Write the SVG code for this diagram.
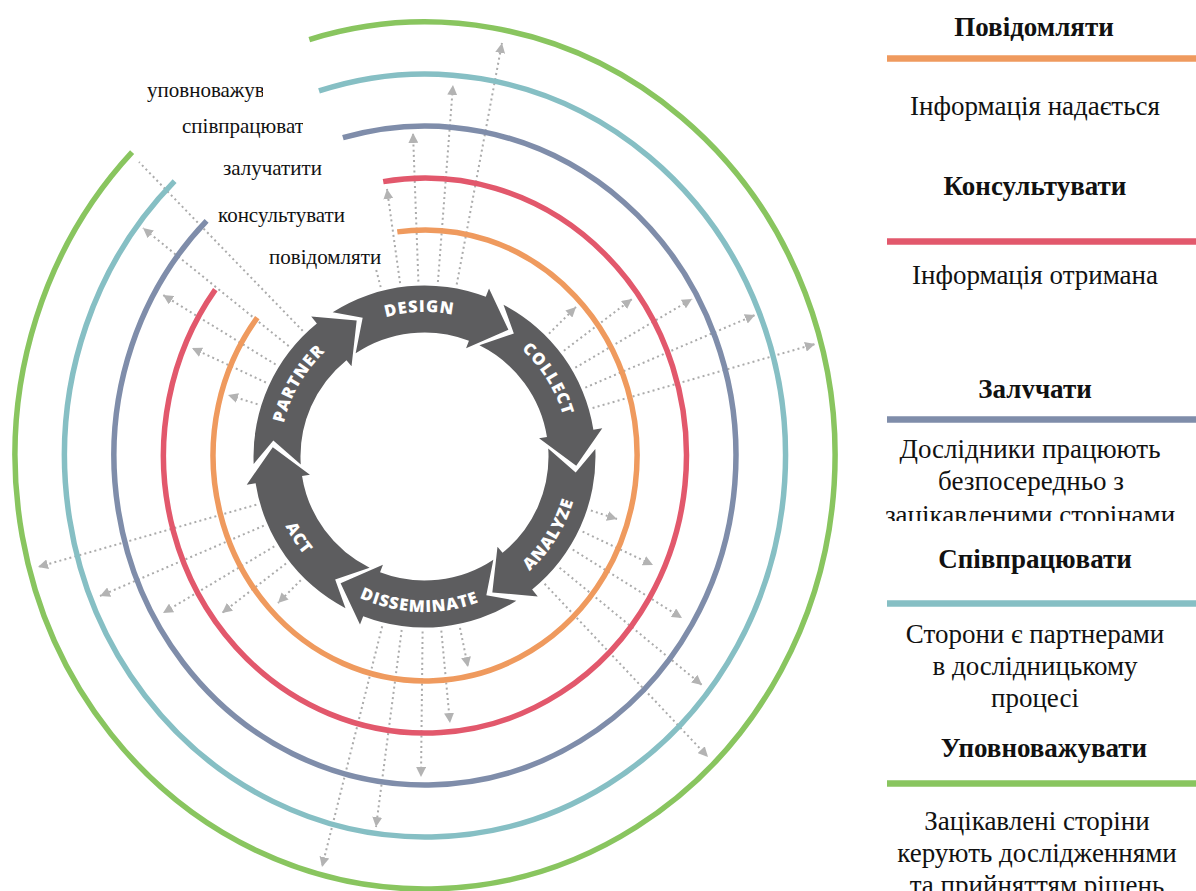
<svg xmlns="http://www.w3.org/2000/svg" xmlns:xlink="http://www.w3.org/1999/xlink" width="1196" height="891" viewBox="0 0 1196 891">
<style>
.d{stroke:#ABABAB;stroke-width:2;stroke-dasharray:2 3.2;fill:none}
.ring{fill:none;stroke-width:5.5}
.seg{fill:#5D5D5F}
.ct{font-family:"Open Sans","DejaVu Sans",sans-serif;font-weight:800;font-size:16.5px;fill:#fff;letter-spacing:1px}
.lab{font-family:"Liberation Serif","DejaVu Serif",serif;font-size:21px;fill:#111}
.lg{font-family:"Liberation Serif","DejaVu Serif",serif;font-size:27px;fill:#111;text-anchor:middle}
.lgb{font-family:"Liberation Serif","DejaVu Serif",serif;font-size:27px;font-weight:700;fill:#111;text-anchor:middle}
.ll{stroke-width:6.5}
</style>
<defs>
<marker id="ah" viewBox="0 0 10 10" refX="10" refY="5" markerWidth="10" markerHeight="10" markerUnits="userSpaceOnUse" orient="auto">
<path d="M0,0 L10,5 L0,10 z" fill="#B3B3B3"/>
</marker>
<path id="seg" d="M69.6,-156.19 A171,171 0 0 1 166.95,-37.01 L175.73,-38.95 L152,0 L113.25,-25.1 L121.06,-26.83 A124,124 0 0 0 48.01,-114.33 L81.67,-128.2 Z"/>
<path id="tp-design" d="M296.92,388.66 A144.5,144.5 0 0 1 547.04,379.93"/>
<path id="tp-collect" d="M419.46,312.09 A144.5,144.5 0 0 1 552.08,524.34"/>
<path id="tp-partner" d="M299.36,528.75 A144.5,144.5 0 0 1 424.5,312"/>
<path id="tp-analyze" d="M419.07,611.91 A155.5,155.5 0 0 0 561.79,383.49"/>
<path id="tp-diss" d="M287.21,529.51 A155.5,155.5 0 0 0 556.36,538.9"/>
<path id="tp-act" d="M285.95,385.9 A155.5,155.5 0 0 0 432.64,611.79"/>
<clipPath id="c1"><rect x="140" y="70" width="123" height="40"/></clipPath>
<clipPath id="c2"><rect x="175" y="108" width="128" height="35"/></clipPath>
<clipPath id="c3"><rect x="215" y="150" width="107" height="35"/></clipPath>
<clipPath id="c4"><rect x="210" y="197" width="147" height="35"/></clipPath>
<clipPath id="c5"><rect x="860" y="370" width="336" height="28.5"/></clipPath>
<clipPath id="c6"><rect x="860" y="495" width="336" height="26"/></clipPath>
</defs>
<rect width="1196" height="891" fill="#fff"/>

<g id="connectors">
<line class="d" x1="549" y1="333.6" x2="576" y2="307" marker-end="url(#ah)"/>
<line class="d" x1="563.9" y1="350.7" x2="632" y2="299" marker-end="url(#ah)"/>
<line class="d" x1="575.3" y1="367.7" x2="692" y2="299" marker-end="url(#ah)"/>
<line class="d" x1="585.3" y1="387.6" x2="755" y2="315" marker-end="url(#ah)"/>
<line class="d" x1="592.6" y1="408" x2="815" y2="344" marker-end="url(#ah)"/>
<line class="d" x1="590.9" y1="510.5" x2="617" y2="519" marker-end="url(#ah)"/>
<line class="d" x1="582.6" y1="531.6" x2="653" y2="565" marker-end="url(#ah)"/>
<line class="d" x1="572.7" y1="549.5" x2="682" y2="618" marker-end="url(#ah)"/>
<line class="d" x1="559.6" y1="567.7" x2="702" y2="685" marker-end="url(#ah)"/>
<line class="d" x1="544.6" y1="583.8" x2="708" y2="757" marker-end="url(#ah)"/>
<line class="d" x1="460" y1="627.9" x2="468" y2="667" marker-end="url(#ah)"/>
<line class="d" x1="441.3" y1="630.7" x2="450" y2="723" marker-end="url(#ah)"/>
<line class="d" x1="422.6" y1="631.5" x2="421" y2="777" marker-end="url(#ah)"/>
<line class="d" x1="401.7" y1="630" x2="376" y2="827" marker-end="url(#ah)"/>
<line class="d" x1="382.2" y1="626.3" x2="322" y2="867" marker-end="url(#ah)"/>
<line class="d" x1="300.8" y1="580.2" x2="278" y2="603" marker-end="url(#ah)"/>
<line class="d" x1="286" y1="563.5" x2="222" y2="613" marker-end="url(#ah)"/>
<line class="d" x1="274.3" y1="546.4" x2="163" y2="613" marker-end="url(#ah)"/>
<line class="d" x1="263.8" y1="525.7" x2="100" y2="596" marker-end="url(#ah)"/>
<line class="d" x1="256.3" y1="504.7" x2="38" y2="567" marker-end="url(#ah)"/>
<line class="d" x1="257.5" y1="404.2" x2="228" y2="395" marker-end="url(#ah)"/>
<line class="d" x1="265.9" y1="382.5" x2="192" y2="348" marker-end="url(#ah)"/>
<line class="d" x1="275.6" y1="364.5" x2="163" y2="295" marker-end="url(#ah)"/>
<line class="d" x1="288.7" y1="346.1" x2="143" y2="228" marker-end="url(#ah)"/>
<line class="d" x1="302.7" y1="330.8" x2="139" y2="162"/>
<line class="d" x1="456.7" y1="284.5" x2="502" y2="43" marker-end="url(#ah)"/>
<line class="d" x1="437.9" y1="282" x2="453" y2="85" marker-end="url(#ah)"/>
<line class="d" x1="418.4" y1="281.6" x2="413" y2="133" marker-end="url(#ah)"/>
<line class="d" x1="400.1" y1="283.2" x2="387" y2="189" marker-end="url(#ah)"/>
<line class="d" x1="380.7" y1="287.1" x2="376.2" y2="270"/>
</g>

<g id="rings">
<path id="ring-inform" class="ring" stroke="#EF9A5E" d="M397.3,231.9 A212,225.5 0 1 1 257.3,317.6"/>
<path id="ring-consult" class="ring" stroke="#E2586C" d="M383.2,181.6 A261.5,277.5 0 1 1 215.3,289.7"/>
<path id="ring-involve" class="ring" stroke="#7F8DAA" d="M342.9,137.7 A311,329.5 0 1 1 206.6,220.9"/>
<path id="ring-collaborate" class="ring" stroke="#86BFC4" d="M319,90.9 A360.5,381.5 0 1 1 174.6,181.1"/>
<path id="ring-empower" class="ring" stroke="#89C55F" d="M309.3,39.6 A410,433.5 0 1 1 132.1,152.2"/>
</g>

<g id="cycle">
<g id="design"><use xlink:href="#seg" class="seg" transform="translate(424.5,456.5) rotate(-56.5)"/><text class="ct"><textPath xlink:href="#tp-design" startOffset="50%" text-anchor="middle">DESIGN</textPath></text></g>
<g id="collect"><use xlink:href="#seg" class="seg" transform="translate(424.5,456.5) rotate(3.5)"/><text class="ct"><textPath xlink:href="#tp-collect" startOffset="50%" text-anchor="middle">COLLECT</textPath></text></g>
<g id="analyze"><use xlink:href="#seg" class="seg" transform="translate(424.5,456.5) rotate(63.5)"/><text class="ct"><textPath xlink:href="#tp-analyze" startOffset="50%" text-anchor="middle">ANALYZE</textPath></text></g>
<g id="disseminate"><use xlink:href="#seg" class="seg" transform="translate(424.5,456.5) rotate(123.5)"/><text class="ct"><textPath xlink:href="#tp-diss" startOffset="50%" text-anchor="middle">DISSEMINATE</textPath></text></g>
<g id="act"><use xlink:href="#seg" class="seg" transform="translate(424.5,456.5) rotate(183.5)"/><text class="ct"><textPath xlink:href="#tp-act" startOffset="50%" text-anchor="middle">ACT</textPath></text></g>
<g id="partner"><use xlink:href="#seg" class="seg" transform="translate(424.5,456.5) rotate(243.5)"/><text class="ct"><textPath xlink:href="#tp-partner" startOffset="50%" text-anchor="middle">PARTNER</textPath></text></g>
</g>

<g id="ring-labels">
<text class="lab" x="147" y="97" clip-path="url(#c1)">уповноважувати</text>
<text class="lab" x="182" y="133" clip-path="url(#c2)">співпрацювати</text>
<text class="lab" x="223" y="175" clip-path="url(#c3)">залучатити</text>
<text class="lab" x="218" y="222" clip-path="url(#c4)">консультувати</text>
<text class="lab" x="269" y="264">повідомляти</text>
</g>

<g id="legend">
<g id="legend-inform">
<text class="lgb" x="1034" y="36">Повідомляти</text>
<line class="ll" x1="887" y1="58.5" x2="1196" y2="58.5" stroke="#EF9A5E"/>
<text class="lg" x="1035" y="115">Інформація надається</text>
</g>
<g id="legend-consult">
<text class="lgb" x="1035" y="195">Консультувати</text>
<line class="ll" x1="887" y1="241.5" x2="1196" y2="241.5" stroke="#E2586C"/>
<text class="lg" x="1035" y="284">Інформація отримана</text>
</g>
<g id="legend-involve">
<text class="lgb" x="1035" y="398" clip-path="url(#c5)">Залучати</text>
<line class="ll" x1="887" y1="419.5" x2="1196" y2="419.5" stroke="#7F8DAA"/>
<text class="lg" x="1030" y="458">Дослідники працюють</text>
<text class="lg" x="1031" y="490">безпосередньо з</text>
<text class="lg" x="1030" y="524" clip-path="url(#c6)">зацікавленими сторінами</text>
</g>
<g id="legend-collaborate">
<text class="lgb" x="1035" y="568">Співпрацювати</text>
<line class="ll" x1="887" y1="603.5" x2="1196" y2="603.5" stroke="#86BFC4"/>
<text class="lg" x="1035" y="643">Сторони є партнерами</text>
<text class="lg" x="1035" y="675">в дослідницькому</text>
<text class="lg" x="1035" y="707">процесі</text>
</g>
<g id="legend-empower">
<text class="lgb" x="1044" y="757">Уповноважувати</text>
<line class="ll" x1="887" y1="783.5" x2="1196" y2="783.5" stroke="#89C55F"/>
<text class="lg" x="1037" y="830">Зацікавлені сторіни</text>
<text class="lg" x="1037" y="862">керують дослідженнями</text>
<text class="lg" x="1037" y="894">та прийняттям рішень</text>
</g>
</g>
</svg>
